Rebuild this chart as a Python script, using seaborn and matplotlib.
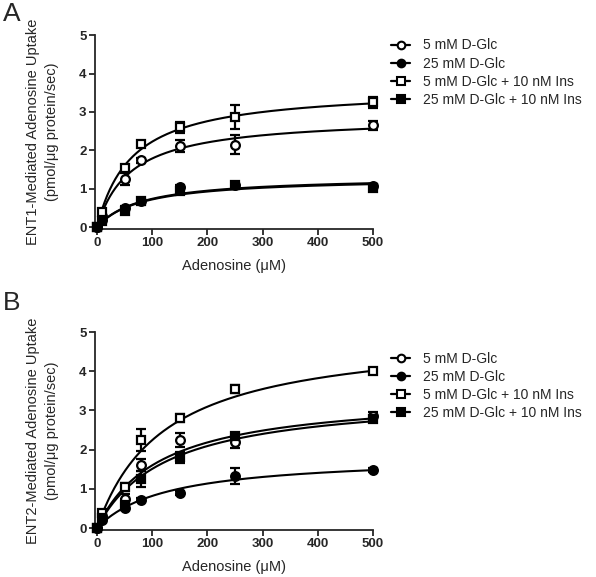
import matplotlib
matplotlib.use('Agg')
import matplotlib.pyplot as plt
from matplotlib.lines import Line2D
import numpy as np
import pandas as pd
import seaborn as sns

# adenosine concentrations (uM)
conc = [0, 10, 50, 80, 150, 250, 500]

series = ['5 mM D-Glc', '25 mM D-Glc', '5 mM D-Glc + 10 nM Ins', '25 mM D-Glc + 10 nM Ins']
markers = ['o', 'o', 's', 's']
filled = [False, True, False, True]

# panel A (ENT1) means and SEM
ent1_mean = [
    [0.0, 0.30, 1.25, 1.74, 2.12, 2.15, 2.65],
    [0.0, 0.18, 0.50, 0.68, 1.05, 1.10, 1.08],
    [0.0, 0.40, 1.55, 2.16, 2.60, 2.87, 3.25],
    [0.0, 0.15, 0.42, 0.68, 0.95, 1.10, 1.02],
]
ent1_sem = [
    [0.0, 0.05, 0.15, 0.06, 0.15, 0.25, 0.12],
    [0.0, 0.03, 0.04, 0.04, 0.05, 0.05, 0.04],
    [0.0, 0.05, 0.08, 0.06, 0.15, 0.32, 0.15],
    [0.0, 0.03, 0.04, 0.04, 0.05, 0.05, 0.05],
]
# Michaelis-Menten fit parameters (Vmax, Km)
ent1_vmax = [2.88, 1.33, 3.63, 1.30]
ent1_km = [61, 80, 63, 80]

# panel B (ENT2)
ent2_mean = [
    [0.0, 0.30, 0.75, 1.60, 2.25, 2.20, 2.85],
    [0.0, 0.20, 0.50, 0.72, 0.90, 1.32, 1.48],
    [0.0, 0.38, 1.05, 2.25, 2.80, 3.55, 4.00],
    [0.0, 0.25, 0.60, 1.25, 1.80, 2.35, 2.78],
]
ent2_sem = [
    [0.0, 0.05, 0.12, 0.15, 0.18, 0.15, 0.10],
    [0.0, 0.04, 0.05, 0.04, 0.05, 0.20, 0.05],
    [0.0, 0.05, 0.10, 0.28, 0.10, 0.10, 0.08],
    [0.0, 0.05, 0.15, 0.20, 0.15, 0.08, 0.06],
]
ent2_vmax = [3.44, 1.85, 5.00, 3.41]
ent2_km = [115, 126, 123, 126]

ylabels = ['ENT1-Mediated Adenosine Uptake\n(pmol/\u03bcg protein/sec)',
           'ENT2-Mediated Adenosine Uptake\n(pmol/\u03bcg protein/sec)']

sns.set_style('ticks')
plt.rcParams['font.family'] = ['Liberation Sans', 'DejaVu Sans']

fig = plt.figure(figsize=(5.96, 5.77), dpi=100)
ax_a = fig.add_axes([0.159, 0.603, 0.467, 0.336])
ax_b = fig.add_axes([0.159, 0.0815, 0.467, 0.343])

x_fit = np.linspace(0, 500, 300)

panels = [
    (ax_a, ent1_mean, ent1_sem, ent1_vmax, ent1_km, ylabels[0], 'A', 0.975, 0.955),
    (ax_b, ent2_mean, ent2_sem, ent2_vmax, ent2_km, ylabels[1], 'B', 0.475, 0.412),
]

for ax, means, sems, vmax, km, ylab, letter, letter_y, leg_y in panels:
    for i, name in enumerate(series):
        fit = pd.DataFrame({'x': x_fit, 'y': vmax[i] * x_fit / (km[i] + x_fit)})
        sns.lineplot(data=fit, x='x', y='y', ax=ax, color='black', lw=1.5)
        ax.errorbar(conc, means[i], yerr=sems[i], fmt=markers[i], ms=6.3,
                    mfc='black' if filled[i] else 'white', mec='black', mew=1.6,
                    ecolor='black', elinewidth=1.6, capsize=3.5, capthick=1.6, zorder=3,
                    clip_on=False)
    ax.set_xlim(-4, 500)
    ax.set_ylim(-0.05, 5)
    ax.set_xticks(range(0, 501, 100))
    ax.set_yticks(range(0, 6))
    sns.despine(ax=ax)
    ax.spines['left'].set_linewidth(1.3)
    ax.spines['bottom'].set_linewidth(1.3)
    ax.spines['left'].set_bounds(0, 5)
    ax.spines['bottom'].set_bounds(0, 500)
    ax.tick_params(width=1.3, length=4, labelsize=9.5, pad=2)
    for lbl in ax.get_xticklabels() + ax.get_yticklabels():
        lbl.set_fontweight('bold')
    ax.set_xlabel('Adenosine (\u03bcM)', fontsize=10.5, labelpad=7)
    ax.set_ylabel(ylab, fontsize=10.5, labelpad=14, linespacing=1.5)
    fig.text(0.005, letter_y, letter, fontsize=19, ha='left', va='center')

    handles = []
    for i, name in enumerate(series):
        handles.append(Line2D([0], [0], color='black', lw=1.6, marker=markers[i], ms=5.5,
                              mfc='black' if filled[i] else 'white', mec='black', mew=1.5))
    fig.legend(handles, series, loc='upper left', bbox_to_anchor=(0.635, leg_y),
               frameon=False, fontsize=10, handlelength=1.4, handletextpad=0.9,
               labelspacing=0.3)

fig.savefig('out.png', dpi=100)
